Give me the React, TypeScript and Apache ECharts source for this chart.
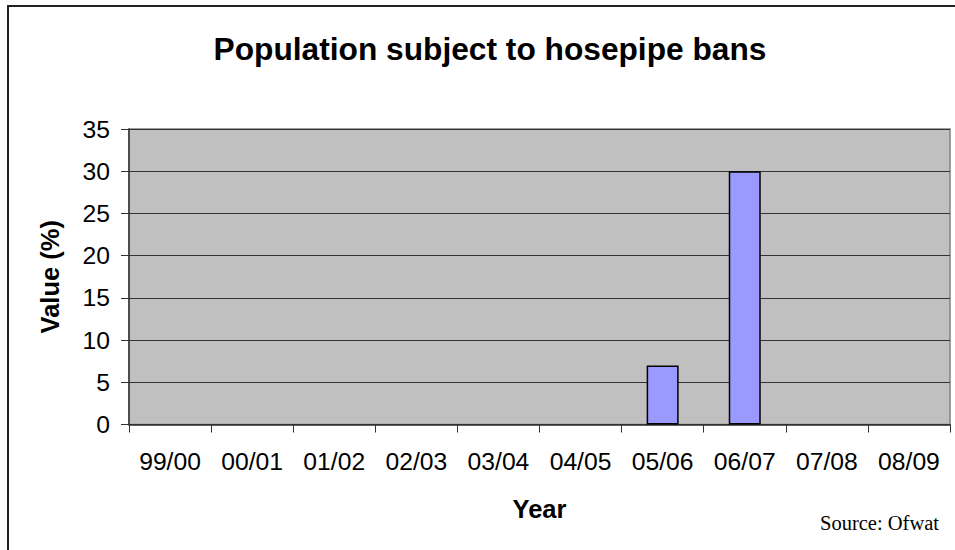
import React, { useEffect, useRef } from "react";
import * as echarts from "echarts";

const categories = ["99/00", "00/01", "01/02", "02/03", "03/04", "04/05", "05/06", "06/07", "07/08", "08/09"];
const values = [0, 0, 0, 0, 0, 0, 7, 30, 0, 0];
const titleText = "Population subject to hosepipe bans";
const yAxisName = "Value (%)";
const xAxisName = "Year";
const sourceText = "Source: Ofwat";

export default function App() {
  const ref = useRef<HTMLDivElement>(null);
  useEffect(() => {
    if (!ref.current) return;
    const chart = echarts.init(ref.current, undefined, { renderer: "svg" });
    chart.setOption({
      animation: false,
      backgroundColor: "#ffffff",
      textStyle: { fontFamily: "Liberation Sans" },
      title: {
        text: titleText,
        left: 485,
        top: 44,
        textAlign: "center",
        textVerticalAlign: "middle",
        textStyle: { fontFamily: "Liberation Sans", fontWeight: "bold", fontSize: 31.7, color: "#000" },
      },
      graphic: [
        {
          type: "rect",
          shape: { x: 8, y: 6, width: 970, height: 570 },
          style: { fill: "none", stroke: "#222", lineWidth: 2 },
          silent: true,
        },
        {
          type: "text",
          right: 16,
          top: 512,
          style: { text: sourceText, font: "20.5px 'Liberation Serif'", fill: "#000" },
        },
      ],
      grid: {
        left: 129,
        right: 5,
        top: 129,
        bottom: 125.5,
        show: true,
        backgroundColor: "#C0C0C0",
        borderColor: "#808080",
        borderWidth: 1.5,
      },
      xAxis: {
        type: "category",
        data: categories,
        name: xAxisName,
        nameLocation: "middle",
        nameGap: 71,
        nameTextStyle: { fontFamily: "Liberation Sans", fontWeight: "bold", fontSize: 25.5, color: "#000" },
        axisLine: { lineStyle: { color: "#333", width: 1.5 } },
        axisTick: { show: true, length: 8, lineStyle: { color: "#333" } },
        axisLabel: { fontSize: 24.7, color: "#000", margin: 24, fontFamily: "Liberation Sans" },
      },
      yAxis: {
        type: "value",
        min: 0,
        max: 35,
        interval: 5,
        name: yAxisName,
        nameLocation: "middle",
        nameGap: 66,
        nameTextStyle: { fontFamily: "Liberation Sans", fontWeight: "bold", fontSize: 25.5, color: "#000" },
        axisLine: { show: true, lineStyle: { color: "#333", width: 1.5 } },
        axisTick: { show: true, length: 8, lineStyle: { color: "#333" } },
        axisLabel: { fontSize: 24.7, color: "#000", margin: 19, fontFamily: "Liberation Sans" },
        splitLine: { lineStyle: { color: "#333", width: 1 } },
      },
      series: [
        {
          type: "bar",
          data: values.map((v) => (v === 0 ? { value: v, itemStyle: { borderWidth: 0 } } : v)),
          barWidth: 32,
          itemStyle: { color: "#9999FF", borderColor: "#000", borderWidth: 1.5 },
        },
      ],
    });
    return () => chart.dispose();
  }, []);
  return <div ref={ref} style={{ position: "fixed", left: 0, top: 0, width: 955, height: 550 }} />;
}
